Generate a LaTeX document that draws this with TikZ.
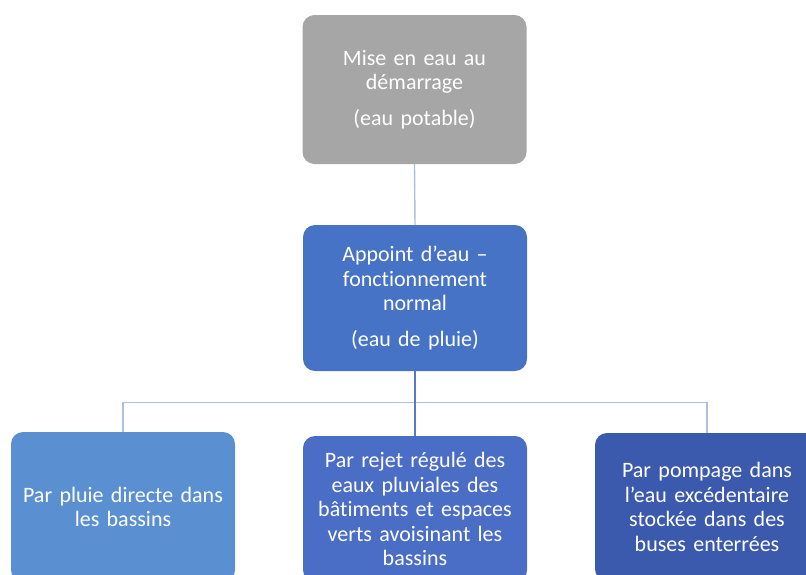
\documentclass[tikz,border=0pt]{standalone}
\usepackage{fontspec}
\setmainfont{Carlito}[Ligatures=NoCommon]
\definecolor{cgray}{HTML}{A6A6A6}
\definecolor{cblue}{HTML}{4673C6}
\definecolor{clight}{HTML}{5A90D2}
\definecolor{cmidb}{HTML}{4A6DC6}
\definecolor{cdark}{HTML}{3B5AAE}
\definecolor{cline}{HTML}{AFC0DE}
\definecolor{cline2}{HTML}{5A78C4}
\tikzset{
  box/.style={rounded corners=12pt, draw=none, text=white, align=center,
    minimum width=224pt, text width=215pt, inner sep=0pt,
    font=\fontsize{22}{24.5}\selectfont},
  conn/.style={draw=cline, line width=1.4pt},
  conn2/.style={draw=cline2, line width=1.6pt}
}
\begin{document}
\begin{tikzpicture}[x=1pt,y=1pt]
\useasboundingbox (0,0) rectangle (806,-574);
\node[box, fill=cgray, minimum height=149pt] (top) at (414.5,-89.5)
  {Mise en eau au\\ démarrage\\[11pt] (eau potable)};
\node[box, fill=cblue, minimum height=146pt] (mid) at (415,-298)
  {Appoint d’eau –\\ fonctionnement\\ normal\\[11pt] (eau de pluie)};
\node[box, fill=clight, minimum height=150pt] (bl) at (123,-507)
  {Par pluie directe dans\\ les bassins};
\node[box, fill=cmidb, minimum height=146pt] (bm) at (415,-509)
  {Par rejet régulé des\\ eaux pluviales des\\ bâtiments et espaces\\ verts avoisinant les\\ bassins};
\node[box, fill=cdark, minimum height=148pt] (br) at (707,-507)
  {Par pompage dans\\ l’eau excédentaire\\ stockée dans des\\ buses enterrées};
\coordinate (hb) at (415,-402.5);
\draw[conn] (top.south) -- (mid.north);
\draw[conn] (bl.north) |- (hb) -| (br.north);
\draw[conn2] (mid.south) -- (bm.north);
\end{tikzpicture}
\end{document}
